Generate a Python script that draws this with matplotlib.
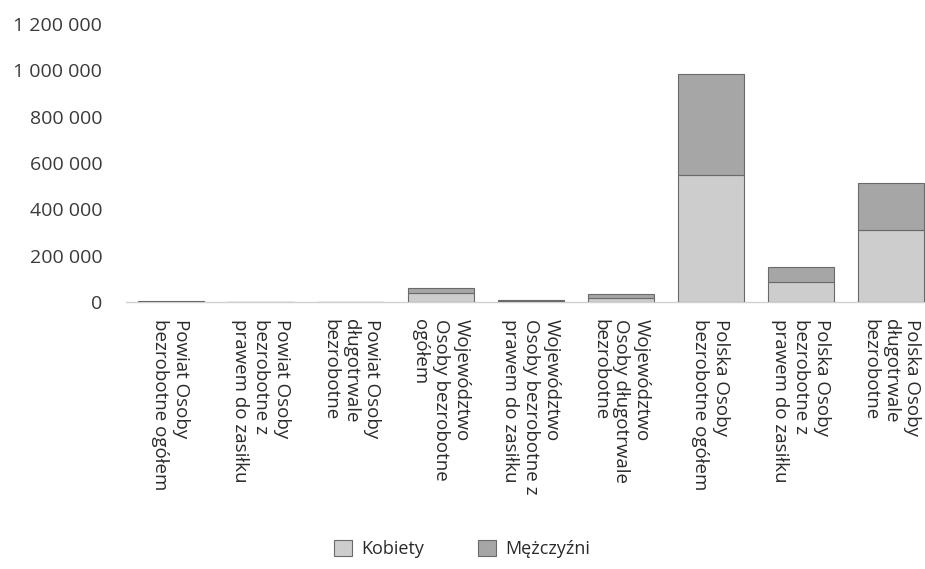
import matplotlib.pyplot as plt
from matplotlib.ticker import FuncFormatter

plt.rcParams['font.family'] = ['Open Sans', 'DejaVu Sans']

categories = [
    'Powiat Osoby\nbezrobotne ogółem',
    'Powiat Osoby\nbezrobotne z\nprawem do zasiłku',
    'Powiat Osoby\ndługotrwale\nbezrobotne',
    'Województwo\nOsoby bezrobotne\nogółem',
    'Województwo\nOsoby bezrobotne z\nprawem do zasiłku',
    'Województwo\nOsoby długotrwale\nbezrobotne',
    'Polska Osoby\nbezrobotne ogółem',
    'Polska Osoby\nbezrobotne z\nprawem do zasiłku',
    'Polska Osoby\ndługotrwale\nbezrobotne',
]
kobiety = [1900, 250, 1000, 38000, 4500, 20000, 548000, 86000, 311000]
mezczyzni = [1600, 250, 800, 23000, 4500, 15000, 437000, 65000, 203000]
y_ticks = [0, 200000, 400000, 600000, 800000, 1000000, 1200000]

fig = plt.figure(figsize=(9.25, 5.69), dpi=100)
ax = fig.add_axes([0.136, 0.469, 0.864, 0.489])

x = list(range(len(categories)))
ax.bar(x, kobiety, width=0.73, color='#cdcdcd', edgecolor='#6a6a6a',
       linewidth=0.8, label='Kobiety', zorder=3)
ax.bar(x, mezczyzni, width=0.73, bottom=kobiety, color='#a6a6a6',
       edgecolor='#6a6a6a', linewidth=0.8, label='Mężczyźni', zorder=3)

ax.set_xlim(-0.5, 8.38)
ax.set_ylim(0, 1200000)
ax.set_yticks(y_ticks)
ax.yaxis.set_major_formatter(FuncFormatter(lambda v, p: f'{int(v):,}'.replace(',', ' ')))
ax.set_xticks(x)
ax.set_xticklabels(categories, rotation=270, ha='center', va='top',
                   multialignment='left', linespacing=1.2)

ax.tick_params(axis='y', length=0, pad=17, labelsize=14, labelcolor='#3a3a3a')
ax.tick_params(axis='x', length=0, pad=12, labelsize=13.5, labelcolor='#2a2a2a')

for s in ['top', 'right', 'left']:
    ax.spines[s].set_visible(False)
ax.spines['bottom'].set_color('#d0d0d0')
ax.spines['bottom'].set_linewidth(1.0)

fig.legend(loc='center', bbox_to_anchor=(462 / 925, 1 - 549 / 569), ncol=2,
           frameon=False, fontsize=13, handlelength=1.0, handleheight=1.0,
           handletextpad=0.5, columnspacing=3.0, labelcolor='#2a2a2a')

fig.savefig('out.png', dpi=100)
